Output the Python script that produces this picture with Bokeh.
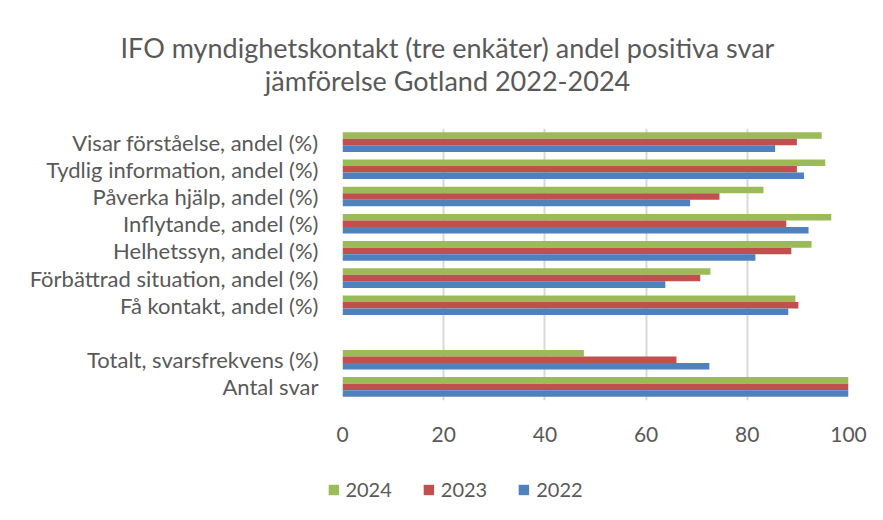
from bokeh.plotting import figure
from bokeh.layouts import column
from bokeh.core.properties import value
from bokeh.models import ColumnDataSource, FactorRange, Range1d, FixedTicker, Legend, LegendItem
from bokeh.transform import dodge
from bokeh.embed import file_html
from bokeh.resources import INLINE

categories = [
    "Visar förståelse, andel (%)",
    "Tydlig information, andel (%)",
    "Påverka hjälp, andel (%)",
    "Inflytande, andel (%)",
    "Helhetssyn, andel (%)",
    "Förbättrad situation, andel (%)",
    "Få kontakt, andel (%)",
    " ",
    "Totalt, svarsfrekvens (%)",
    "Antal svar",
]
v2024 = [94.7, 95.4, 83.2, 96.6, 92.7, 72.7, 89.5, None, 47.7, 100]
v2023 = [89.8, 89.8, 74.5, 87.7, 88.7, 70.7, 90.1, None, 66.0, 100]
v2022 = [85.5, 91.2, 68.7, 92.1, 81.6, 63.8, 88.1, None, 72.5, 100]
years = ["2024", "2023", "2022"]
colors = ["#9BBB59", "#C0504D", "#4F81BD"]
x_ticks = [0, 20, 40, 60, 80, 100]
title_lines = ["IFO myndighetskontakt (tre enkäter) andel positiva svar",
               "jämförelse Gotland 2022-2024"]

FONT = "Lato"
TXT = "#595959"
W = 867
TOP_H = 112
title_x = [447, 447]     # layout positions of the two title lines (pixels)
title_y = [47, 80]

src = ColumnDataSource(dict(cat=categories, y2024=v2024, y2023=v2023, y2022=v2022))


def no_align(fig):
    try:
        fig.frame_align = False
    except Exception:
        pass


# ---- title strip ----
top = figure(width=W, height=TOP_H, output_backend="svg", toolbar_location=None,
             x_range=Range1d(0, W), y_range=Range1d(TOP_H, 0),
             x_axis_location=None, y_axis_location=None, min_border=0)
no_align(top)
top.grid.visible = False
top.outline_line_color = None
top.text(x=title_x, y=title_y, text=title_lines, text_align="center", text_baseline="middle",
         text_font=value(FONT), text_font_size=value("27px"), text_color=TXT)

# ---- main chart ----
p = figure(
    width=W, height=344,
    y_range=FactorRange(factors=categories[::-1]),
    x_range=Range1d(0, 100),
    output_backend="svg", toolbar_location=None,
    min_border_left=342, min_border_right=19, min_border_top=16, min_border_bottom=56,
)

offsets = [0.24, 0.0, -0.24]
for yr, col, off in zip(years, colors, offsets):
    p.hbar(y=dodge("cat", off, range=p.y_range), left=0, right="y" + yr, height=0.24,
           source=src, fill_color=col, line_color=None)

p.xaxis.ticker = FixedTicker(ticks=x_ticks)
p.xaxis.axis_line_color = None
p.xaxis.major_tick_line_color = None
p.xaxis.minor_tick_line_color = None
p.xaxis.major_label_text_font = FONT
p.xaxis.major_label_text_font_size = "21px"
p.xaxis.major_label_text_color = TXT
p.xaxis.major_label_standoff = 20

p.yaxis.axis_line_color = None
p.yaxis.major_tick_line_color = None
p.yaxis.minor_tick_line_color = None
p.yaxis.major_label_text_font = FONT
p.yaxis.major_label_text_font_size = "22px"
p.yaxis.major_label_text_color = TXT
p.yaxis.major_label_standoff = 18

p.ygrid.grid_line_color = None
p.xgrid.grid_line_color = "#D9D9D9"
p.xgrid.grid_line_width = 2
p.outline_line_color = None

# ---- legend strip ----
leg = figure(width=W, height=48, output_backend="svg", toolbar_location=None,
             y_range=FactorRange(factors=categories[::-1]), x_range=Range1d(-2, -1),
             x_axis_location=None, y_axis_location=None,
             min_border_left=42, min_border_right=0, min_border_top=18, min_border_bottom=0)
no_align(leg)
leg.grid.visible = False
leg.outline_line_color = None
items = []
for yr, col in zip(years, colors):
    r = leg.hbar(y="cat", left=0, right="y" + yr, height=0.24, source=src,
                 fill_color=col, line_color=None)
    items.append(LegendItem(label=yr, renderers=[r]))
legend = Legend(
    items=items, orientation="horizontal", location="center",
    label_text_font=FONT, label_text_font_size="20px", label_text_color=TXT,
    glyph_width=13, glyph_height=13, label_standoff=6, spacing=30,
    border_line_color=None, background_fill_alpha=0, margin=0, padding=0,
)
leg.add_layout(legend, "center")

layout = column(top, p, leg, spacing=0)
open("out.html", "w").write(file_html(layout, INLINE))
